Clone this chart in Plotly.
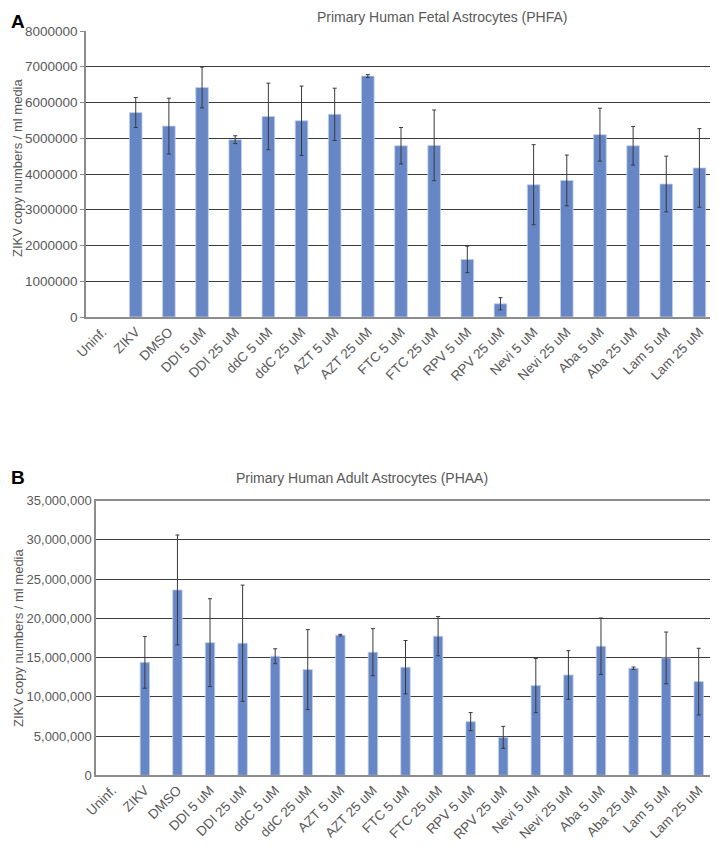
import plotly.graph_objects as go

categories = ["Uninf.", "ZIKV", "DMSO", "DDI 5 uM", "DDI 25 uM", "ddC 5 uM", "ddC 25 uM",
              "AZT 5 uM", "AZT 25 uM", "FTC 5 uM", "FTC 25 uM", "RPV 5 uM", "RPV 25 uM",
              "Nevi 5 uM", "Nevi 25 uM", "Aba 5 uM", "Aba 25 uM", "Lam 5 uM", "Lam 25 uM"]

phfa_values = [None, 5720000, 5340000, 6420000, 4960000, 5610000, 5490000, 5670000, 6740000,
               4790000, 4800000, 1610000, 370000, 3700000, 3820000, 5100000, 4790000,
               3720000, 4170000]
phfa_errors = [None, 420000, 780000, 570000, 110000, 930000, 970000, 730000, 40000,
               510000, 990000, 370000, 170000, 1120000, 710000, 740000, 540000,
               780000, 1100000]

phaa_values = [None, 14400000, 23630000, 16910000, 16840000, 15180000, 13470000, 17860000,
               15690000, 13780000, 17730000, 6840000, 4840000, 11430000, 12790000,
               16450000, 13650000, 14960000, 11940000]
phaa_errors = [None, 3300000, 7000000, 5600000, 7400000, 950000, 5100000, 100000,
               3000000, 3400000, 2500000, 1150000, 1400000, 3450000, 3100000,
               3600000, 150000, 3300000, 4250000]

titles = ["Primary Human Fetal Astrocytes (PHFA)", "Primary Human Adult Astrocytes (PHAA)"]
y_title = "ZIKV copy numbers / ml media"

W, H = 718, 848
OFF = 8  # page body margin offset
BAR = "#6686c6"
TXT = "#595959"
GRID = "#3c3c3c"
AXL = "#8c8c8c"
FONT = "Liberation Sans, Arial, sans-serif"

fig = go.Figure()

fig.add_trace(go.Bar(
    x=categories, y=phfa_values, xaxis="x", yaxis="y", width=0.38,
    marker=dict(color=BAR, line=dict(color="#c3d0ec", width=0.8)),
    error_y=dict(type="data", array=phfa_errors, visible=True, color="#3a3a3a",
                 thickness=1, width=2),
    showlegend=False))

fig.add_trace(go.Bar(
    x=categories, y=phaa_values, xaxis="x2", yaxis="y2", width=0.29,
    marker=dict(color=BAR, line=dict(color="#c3d0ec", width=0.8)),
    error_y=dict(type="data", array=phaa_errors, visible=True, color="#3a3a3a",
                 thickness=1, width=2),
    showlegend=False))


def px_x(p):
    return (p - OFF) / W


def px_y(p):
    return 1 - (p - OFF) / H


fig.update_layout(
    width=W, height=H,
    margin=dict(l=0, r=0, t=0, b=0),
    paper_bgcolor="white", plot_bgcolor="white",
    font=dict(family=FONT, color=TXT),
    xaxis=dict(domain=[px_x(86), px_x(716)], anchor="y", type="category",
               categoryorder="array", categoryarray=categories, automargin=False,
               tickangle=-45, tickfont=dict(size=13.5, color=TXT),
               showline=True, linecolor=AXL, linewidth=1.5, showgrid=False,
               ticks=""),
    yaxis=dict(domain=[px_y(317), px_y(31)], anchor="x", range=[0, 8000000],
               automargin=False,
               dtick=1000000, tickformat="d", tickfont=dict(size=13.5, color=TXT),
               showgrid=True, gridcolor=GRID, gridwidth=1,
               showline=True, linecolor=AXL, linewidth=1.5,
               ticks="outside", ticklen=4, tickcolor=AXL, zeroline=False),
    xaxis2=dict(domain=[px_x(96), px_x(715)], anchor="y2", type="category",
                categoryorder="array", categoryarray=categories, automargin=False,
                tickangle=-45, tickfont=dict(size=13.5, color=TXT),
                showline=True, linecolor=AXL, linewidth=1.5, mirror=True,
                showgrid=False, ticks=""),
    yaxis2=dict(domain=[px_y(775.3), px_y(500.7)], anchor="x2", range=[0, 35000000],
                automargin=False,
                dtick=5000000, tickformat=",d", tickfont=dict(size=13, color=TXT),
                showgrid=True, gridcolor=GRID, gridwidth=1,
                showline=True, linecolor=AXL, linewidth=1.5, mirror=True,
                zeroline=False, ticks=""),
)

annotations = [
    dict(text=titles[0], x=px_x(443), y=1, xref="paper", yref="paper",
         xanchor="center", yanchor="top", showarrow=False, borderpad=0,
         font=dict(size=14, color=TXT)),
    dict(text=titles[1], x=px_x(362), y=px_y(478), xref="paper", yref="paper",
         xanchor="center", yanchor="middle", showarrow=False,
         font=dict(size=14, color=TXT)),
    dict(text="<b>A</b>", x=px_x(9), y=px_y(21), xref="paper", yref="paper",
         xanchor="left", yanchor="middle", showarrow=False,
         font=dict(size=19, color="black", family="Liberation Sans, Arial")),
    dict(text="<b>B</b>", x=px_x(9), y=px_y(477), xref="paper", yref="paper",
         xanchor="left", yanchor="middle", showarrow=False,
         font=dict(size=19, color="black", family="Liberation Sans, Arial")),
    dict(text=y_title, x=px_x(18), y=px_y(168), xref="paper", yref="paper",
         xanchor="center", yanchor="middle", textangle=-90, showarrow=False,
         font=dict(size=13, color=TXT)),
    dict(text=y_title, x=px_x(18), y=px_y(638), xref="paper", yref="paper",
         xanchor="center", yanchor="middle", textangle=-90, showarrow=False,
         font=dict(size=13, color=TXT)),
]
fig.update_layout(annotations=annotations)

fig.write_html("out.html")
